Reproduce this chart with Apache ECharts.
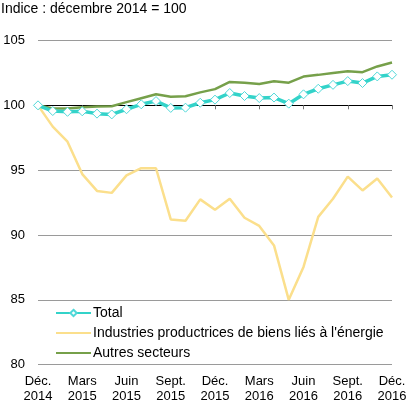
<!DOCTYPE html>
<html>
<head>
<meta charset="UTF-8">
<title>Indice</title>
<script src="https://cdn.jsdelivr.net/npm/echarts@6/dist/echarts.min.js"></script>
<style>
  html, body { margin: 0; padding: 0; background: #fff; }
  #chart { width: 418px; height: 419px; }
</style>
</head>
<body>
<div id="chart"></div>
<script>
// mois : déc. 2014 -> déc. 2016
var months = ['Déc.\n2014', 'Janv.', 'Févr.', 'Mars\n2015', 'Avr.', 'Mai', 'Juin\n2015', 'Juil.', 'Août',
    'Sept.\n2015', 'Oct.', 'Nov.', 'Déc.\n2015', 'Janv.', 'Févr.', 'Mars\n2016', 'Avr.', 'Mai',
    'Juin\n2016', 'Juil.', 'Août', 'Sept.\n2016', 'Oct.', 'Nov.', 'Déc.\n2016'];

var total = [100, 99.56, 99.5, 99.54, 99.36, 99.3, 99.7, 100.08, 100.33, 99.8, 99.82, 100.2, 100.44,
    100.95, 100.72, 100.56, 100.6, 100.13, 100.85, 101.28, 101.58, 101.87, 101.72, 102.23, 102.36];

var energie = [100, 98.36, 97.2, 94.7, 93.4, 93.25, 94.6, 95.15, 95.15, 91.2, 91.1, 92.75, 91.95,
    92.8, 91.33, 90.7, 89.2, 85.0, 87.54, 91.4, 92.8, 94.5, 93.44, 94.36, 92.9];

var autres = [100, 99.75, 99.75, 99.85, 99.92, 99.93, 100.25, 100.55, 100.85, 100.66, 100.7, 101.0, 101.25,
    101.8, 101.75, 101.65, 101.85, 101.75, 102.22, 102.35, 102.5, 102.63, 102.56, 103.0, 103.3];

var yTicks = { min: 80, max: 105, step: 5 };

var font = 'Liberation Sans, Arial, sans-serif';
var chart = echarts.init(document.getElementById('chart'));

var option = {
    animation: false,
    textStyle: { fontFamily: font },
    title: {
        text: 'Indice : décembre 2014 = 100',
        left: -4,
        top: -3,
        textStyle: { fontSize: 14, fontWeight: 'normal', color: '#000', fontFamily: font }
    },
    grid: { left: 38, right: 26, top: 40.5, bottom: 54.3, containLabel: false },
    legend: {
        orient: 'vertical',
        left: 50,
        top: 301,
        itemWidth: 35,
        itemHeight: 8,
        itemGap: 6,
        textStyle: { fontSize: 14, color: '#000', fontFamily: font, padding: [0, 0, 0, -3] },
        data: [
            { name: 'Total' },
            { name: 'Industries productrices de biens liés à l\'énergie', itemStyle: { opacity: 0 } },
            { name: 'Autres secteurs', itemStyle: { opacity: 0 } }
        ]
    },
    xAxis: [
        {
            type: 'category',
            data: months,
            boundaryGap: false,
            axisLine: { show: false },
            axisTick: { show: false },
            axisLabel: {
                interval: 2,
                margin: 9,
                fontSize: 13,
                lineHeight: 15,
                color: '#000',
                fontFamily: font
            }
        },
        {
            // ligne noire à 100
            type: 'category',
            data: months,
            boundaryGap: false,
            position: 'bottom',
            offset: -259.4,
            axisLine: { show: true, lineStyle: { color: '#000', width: 1 } },
            axisTick: { show: true, length: 4, lineStyle: { color: '#777' } },
            axisLabel: { show: false }
        }
    ],
    yAxis: {
        type: 'value',
        min: yTicks.min,
        max: yTicks.max,
        interval: yTicks.step,
        axisLine: { show: false },
        axisTick: { show: false },
        axisLabel: { fontSize: 13, color: '#000', margin: 13, fontFamily: font },
        splitLine: { lineStyle: { color: '#9a9a9a', width: 1 } }
    },
    series: [
        {
            name: 'Total',
            type: 'line',
            data: total,
            z: 5,
            symbol: 'diamond',
            symbolSize: 9,
            showAllSymbol: true,
            lineStyle: { color: '#33d3c9', width: 3.5 },
            itemStyle: { color: '#ffffff', borderColor: '#4fd8d8', borderWidth: 1 }
        },
        {
            name: 'Industries productrices de biens liés à l\'énergie',
            type: 'line',
            data: energie,
            z: 3,
            symbol: 'none',
            lineStyle: { color: '#fbdf8c', width: 2.5 },
            itemStyle: { color: '#fbdf8c' }
        },
        {
            name: 'Autres secteurs',
            type: 'line',
            data: autres,
            z: 4,
            symbol: 'none',
            lineStyle: { color: '#76a04a', width: 2.5 },
            itemStyle: { color: '#76a04a' }
        }
    ]
};
chart.setOption(option);
</script>
</body>
</html>
